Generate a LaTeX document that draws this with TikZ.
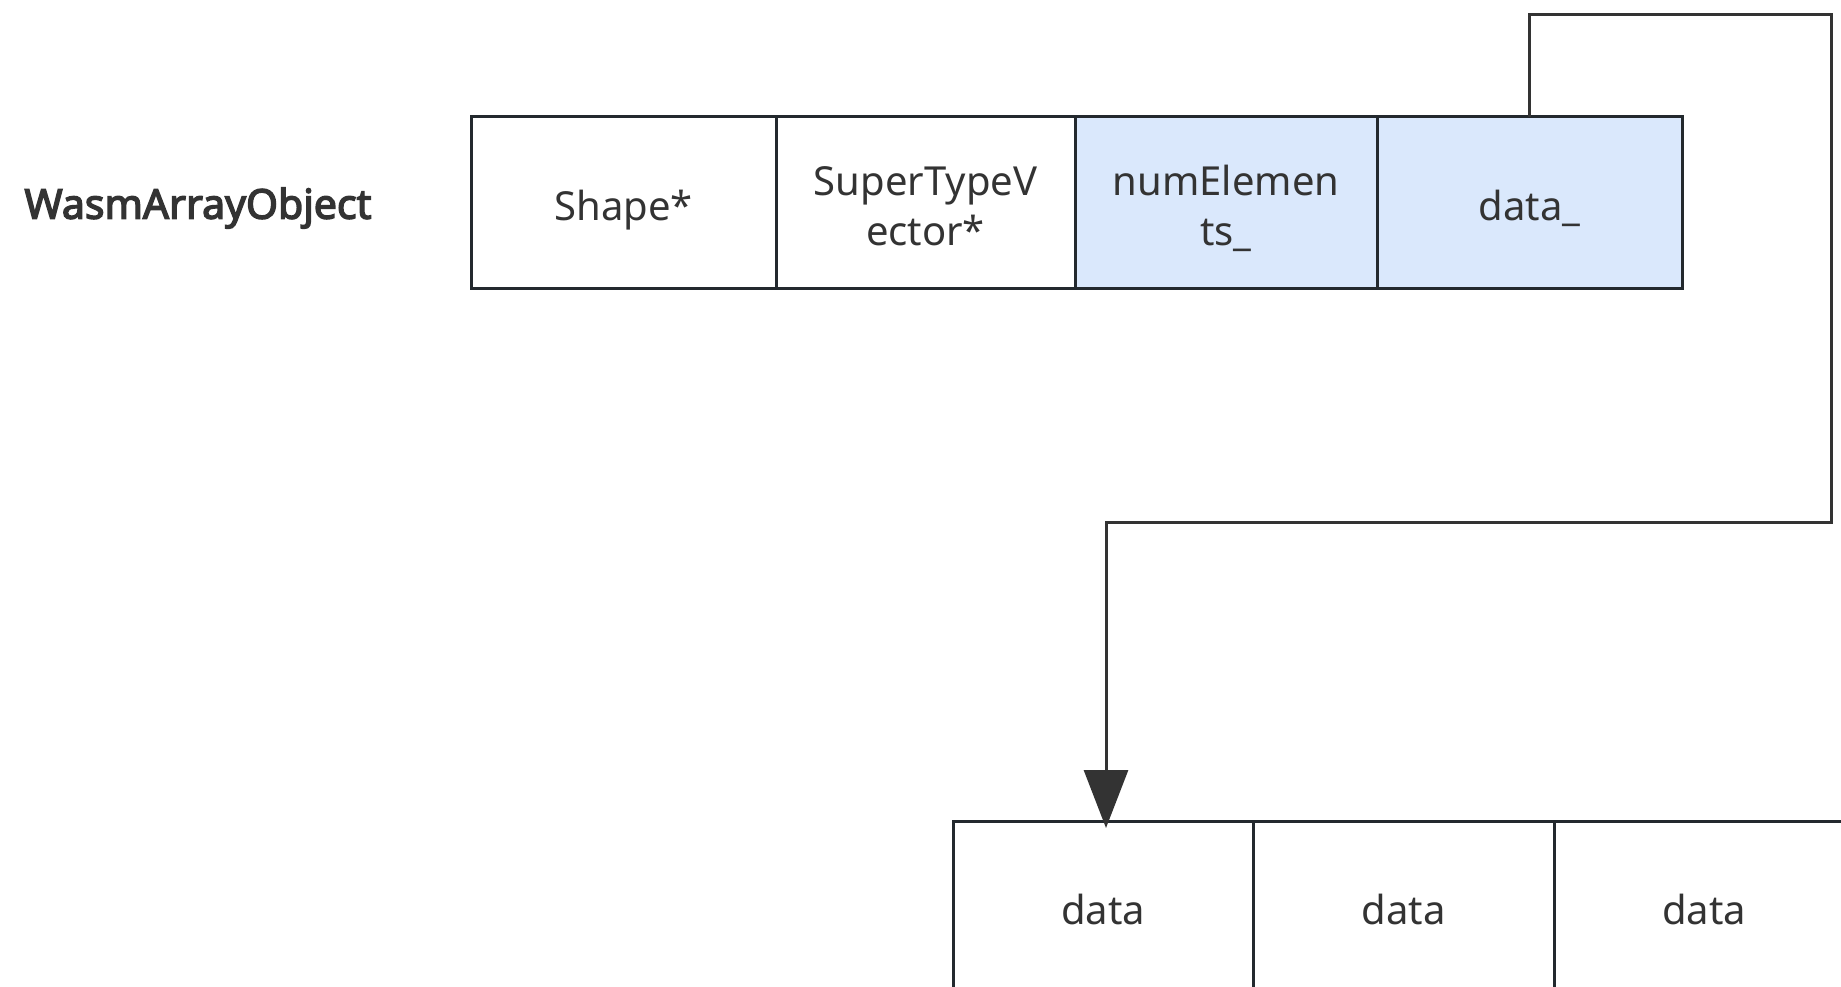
\documentclass[tikz,border=0pt]{standalone}
\usepackage{fontspec}
\setmainfont{Noto Sans}
\newfontfamily\titlefont{Noto Sans}[FakeBold=3.5]
\usepackage{xcolor}
\usetikzlibrary{arrows.meta, positioning}

\definecolor{boxline}{HTML}{23292E}
\definecolor{linkline}{HTML}{333333}
\definecolor{fieldblue}{HTML}{DAE8FC}
\definecolor{txt}{HTML}{333333}

\begin{document}
\begin{tikzpicture}[
        x=1pt, y=-1pt,
        cell/.style={draw=boxline, line width=3pt, rectangle, outer sep=0pt, minimum height=171pt, align=center, text=txt, text height=40pt, text depth=4pt, font=\fontsize{40}{50}\selectfont},
        twoline/.style={text height=90pt},
        field/.style={cell, fill=fieldblue},
        title/.style={text=txt, font=\fontsize{41}{48}\selectfont\titlefont},
        link/.style={-{Triangle[length=58pt, width=44pt]}, draw=linkline, line width=3pt, shorten >=-7pt}
    ]
        \useasboundingbox (0,0) rectangle (1841,987);
        \clip (0,0) rectangle (1841,987);

        % Nodes
            \node[title, anchor=west] (wasm) at (21,208) {WasmArrayObject};
            \node[cell, minimum width=305pt, anchor=north west] (shape) at (471,117) {Shape*};
            \node[cell, twoline, minimum width=299pt, right=0pt of shape] (stv) {SuperTypeV\\ector*};
            \node[field, twoline, minimum width=302pt, right=0pt of stv] (num) {numElemen\\ts\_};
            \node[field, minimum width=305pt, right=0pt of num] (ptr) {data\_};

            \node[cell, minimum width=300pt, anchor=north west] (elemA) at (953,821) {data};
            \node[cell, minimum width=301pt, right=0pt of elemA] (elemB) {data};
            \node[cell, minimum width=300pt, right=0pt of elemB] (elemC) {data};

            \coordinate (bend) at (1831,522);

            % Arrows
            \draw[link] (ptr.north) -- ++(0,-102) -| (bend) -| ([xshift=3pt]elemA.north);
    \end{tikzpicture}
\end{document}
